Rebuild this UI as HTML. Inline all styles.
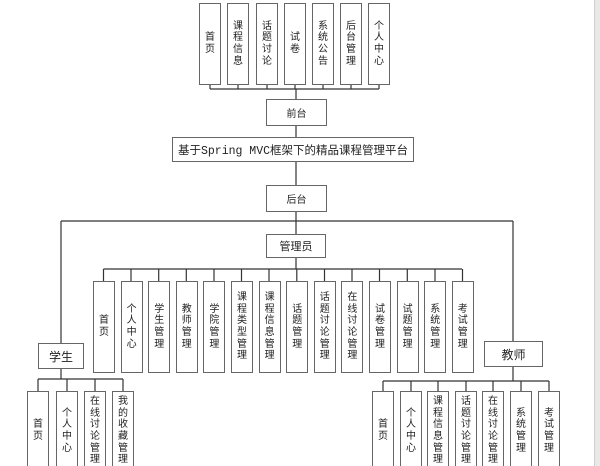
<!DOCTYPE html>
<html><head><meta charset="utf-8"><style>
html,body{margin:0;padding:0;background:#fff;}
#c{position:relative;width:600px;height:466px;overflow:hidden;background:#fff;font-family:"Liberation Sans","Noto Sans CJK SC",sans-serif;color:#222;}
.b{position:absolute;box-sizing:border-box;border:1.5px solid #666;background:#fff;display:flex;flex-direction:column;align-items:center;justify-content:center;font-size:10px;line-height:11.6px;}
.b span{display:block;}
.h{position:absolute;box-sizing:border-box;border:1.5px solid #666;background:#fff;display:flex;align-items:center;justify-content:center;font-size:11px;}
#strip{position:absolute;left:594px;top:0;width:6px;height:466px;background:#e8e8e8;border-left:1px solid #d0d0d0;}
</style></head><body><div id="c">
<svg width="600" height="466" style="position:absolute;left:0;top:0" stroke="#333" stroke-width="1.2" fill="none">
<!-- top -->
<path d="M210 85V89M238 85V89M267 85V89M295 85V89M323 85V89M351 85V89M379 85V89M210 89H379M296 89V99M296 126V137M296 162V185M296 212V234M61 221H513M296 258V269"/>
<path d="M103.5 269H462M61 221V343M61 369V379M38 379H123M38 379V391M67 379V391M95 379V391M123 379V391M513 221V341M513 367V381M383 381H549M383 381V391M411 381V391M438 381V391M466 381V391M493 381V391M521 381V391M549 381V391"/>
<path d="M103.5 269V281M131 269V281M158.7 269V281M186.3 269V281M214 269V281M241.5 269V281M269 269V281M296.8 269V281M324.5 269V281M352 269V281M379.5 269V281M407.3 269V281M435 269V281M462.5 269V281"/>
</svg>
<!-- top boxes -->
<div class="b" style="left:199px;top:3px;width:22px;height:82px"><span>首</span><span>页</span></div>
<div class="b" style="left:227px;top:3px;width:22px;height:82px"><span>课</span><span>程</span><span>信</span><span>息</span></div>
<div class="b" style="left:256px;top:3px;width:22px;height:82px"><span>话</span><span>题</span><span>讨</span><span>论</span></div>
<div class="b" style="left:284px;top:3px;width:22px;height:82px"><span>试</span><span>卷</span></div>
<div class="b" style="left:312px;top:3px;width:22px;height:82px"><span>系</span><span>统</span><span>公</span><span>告</span></div>
<div class="b" style="left:340px;top:3px;width:22px;height:82px"><span>后</span><span>台</span><span>管</span><span>理</span></div>
<div class="b" style="left:368px;top:3px;width:22px;height:82px"><span>个</span><span>人</span><span>中</span><span>心</span></div>
<div class="h" style="left:266px;top:99px;width:61px;height:27px;font-size:10px">前台</div>
<div class="h" style="left:172px;top:137px;width:242px;height:25px;font-size:11.5px;font-family:'Liberation Mono','Noto Sans CJK SC',monospace">基于Spring MVC框架下的精品课程管理平台</div>
<div class="h" style="left:266px;top:185px;width:61px;height:27px;font-size:10px">后台</div>
<div class="h" style="left:266px;top:234px;width:60px;height:24px">管理员</div>
<!-- admin boxes -->
<div class="b" style="left:93px;top:281px;width:22px;height:92px"><span>首</span><span>页</span></div>
<div class="b" style="left:120.6px;top:281px;width:22px;height:92px"><span>个</span><span>人</span><span>中</span><span>心</span></div>
<div class="b" style="left:148.2px;top:281px;width:22px;height:92px"><span>学</span><span>生</span><span>管</span><span>理</span></div>
<div class="b" style="left:175.8px;top:281px;width:22px;height:92px"><span>教</span><span>师</span><span>管</span><span>理</span></div>
<div class="b" style="left:203.4px;top:281px;width:22px;height:92px"><span>学</span><span>院</span><span>管</span><span>理</span></div>
<div class="b" style="left:231px;top:281px;width:22px;height:92px"><span>课</span><span>程</span><span>类</span><span>型</span><span>管</span><span>理</span></div>
<div class="b" style="left:258.6px;top:281px;width:22px;height:92px"><span>课</span><span>程</span><span>信</span><span>息</span><span>管</span><span>理</span></div>
<div class="b" style="left:286.2px;top:281px;width:22px;height:92px"><span>话</span><span>题</span><span>管</span><span>理</span></div>
<div class="b" style="left:313.8px;top:281px;width:22px;height:92px"><span>话</span><span>题</span><span>讨</span><span>论</span><span>管</span><span>理</span></div>
<div class="b" style="left:341.4px;top:281px;width:22px;height:92px"><span>在</span><span>线</span><span>讨</span><span>论</span><span>管</span><span>理</span></div>
<div class="b" style="left:369px;top:281px;width:22px;height:92px"><span>试</span><span>卷</span><span>管</span><span>理</span></div>
<div class="b" style="left:396.6px;top:281px;width:22px;height:92px"><span>试</span><span>题</span><span>管</span><span>理</span></div>
<div class="b" style="left:424.2px;top:281px;width:22px;height:92px"><span>系</span><span>统</span><span>管</span><span>理</span></div>
<div class="b" style="left:451.8px;top:281px;width:22px;height:92px"><span>考</span><span>试</span><span>管</span><span>理</span></div>
<!-- student -->
<div class="h" style="left:38px;top:343px;width:46px;height:26px;font-size:12px">学生</div>
<div class="b" style="left:27px;top:391px;width:22px;height:80px"><span>首</span><span>页</span></div>
<div class="b" style="left:56px;top:391px;width:22px;height:80px"><span>个</span><span>人</span><span>中</span><span>心</span></div>
<div class="b" style="left:84px;top:391px;width:22px;height:80px"><span>在</span><span>线</span><span>讨</span><span>论</span><span>管</span><span>理</span></div>
<div class="b" style="left:112px;top:391px;width:22px;height:80px"><span>我</span><span>的</span><span>收</span><span>藏</span><span>管</span><span>理</span></div>
<!-- teacher -->
<div class="h" style="left:484px;top:341px;width:59px;height:26px;font-size:12px">教师</div>
<div class="b" style="left:372px;top:391px;width:22px;height:80px"><span>首</span><span>页</span></div>
<div class="b" style="left:400px;top:391px;width:22px;height:80px"><span>个</span><span>人</span><span>中</span><span>心</span></div>
<div class="b" style="left:427px;top:391px;width:22px;height:80px"><span>课</span><span>程</span><span>信</span><span>息</span><span>管</span><span>理</span></div>
<div class="b" style="left:455px;top:391px;width:22px;height:80px"><span>话</span><span>题</span><span>讨</span><span>论</span><span>管</span><span>理</span></div>
<div class="b" style="left:482px;top:391px;width:22px;height:80px"><span>在</span><span>线</span><span>讨</span><span>论</span><span>管</span><span>理</span></div>
<div class="b" style="left:510px;top:391px;width:22px;height:80px"><span>系</span><span>统</span><span>管</span><span>理</span></div>
<div class="b" style="left:538px;top:391px;width:22px;height:80px"><span>考</span><span>试</span><span>管</span><span>理</span></div>
<div id="strip"></div>
</div></body></html>
